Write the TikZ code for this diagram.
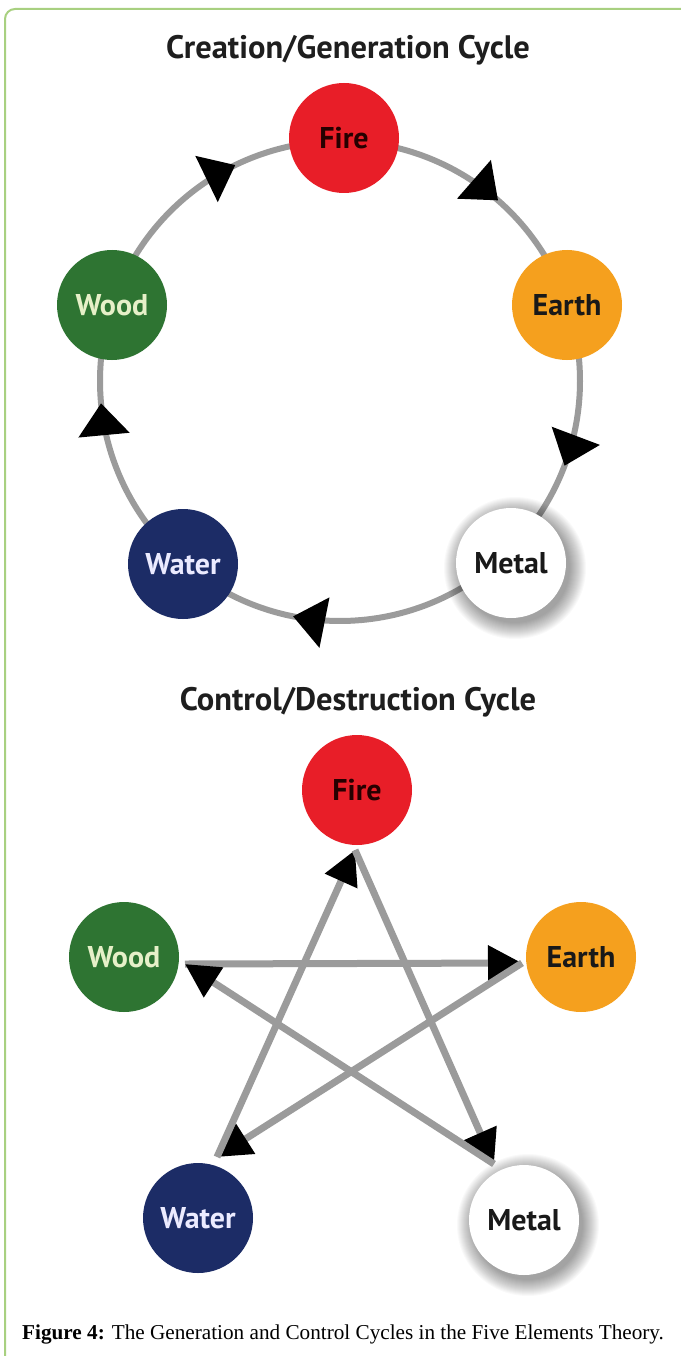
\documentclass[tikz,border=0pt]{standalone}
\usepackage{fontspec}
\setmainfont{Liberation Serif}
\setsansfont{PT Sans}
\usetikzlibrary{arrows.meta,decorations.markings,calc}
\definecolor{firered}{RGB}{232,30,40}
\definecolor{earthor}{RGB}{245,160,30}
\definecolor{woodgr}{RGB}{46,116,50}
\definecolor{waterbl}{RGB}{28,44,102}
\definecolor{ringgray}{RGB}{155,155,155}
\definecolor{framegr}{RGB}{168,208,128}
\definecolor{titlec}{RGB}{30,30,30}
\definecolor{woodtxt}{RGB}{230,240,200}
\begin{document}
\begin{tikzpicture}[x=1pt,y=1pt,
  elem/.style={circle, minimum size=110pt, inner sep=0pt, font=\sffamily\bfseries\fontsize{30}{30}\selectfont},
  ring/.style={draw=ringgray, line width=6pt},
  ringarrow/.style={postaction={decorate}, decoration={markings, mark=at position #1 with {\arrow{Triangle[length=32pt,width=50pt,color=black]}}}},
  starline/.style={draw=ringgray, line width=7pt, -{Triangle[length=34pt,width=34pt,color=black]}},
  ttl/.style={font=\sffamily\bfseries\fontsize{32.5}{33}\selectfont, text=titlec},
  shadowring/.style={fill=black, opacity=#1},
]
\useasboundingbox (0,0) rectangle (680,-1356);
\fill[white] (0,0) rectangle (680,-1356);
% frame
\draw[framegr, line width=2pt, rounded corners=10pt] (5,-1370) -- (5,-9) -- (700,-9);

% titles
\node[ttl] (t1) at (348,-50) {Creation/Generation Cycle};
\node[ttl] (t2) at (358,-702) {Control/Destruction Cycle};

% ---- top cycle ----
\coordinate (rc) at (340,-381);
\draw[ring, ringarrow=0.63] ($(rc)+(161.6:240pt)$) arc[start angle=161.6, end angle=89, radius=240pt];
\draw[ring, ringarrow=0.57] ($(rc)+(89:240pt)$) arc[start angle=89, end angle=18.5, radius=240pt];
\draw[ring, ringarrow=0.60] ($(rc)+(18.5:240pt)$) arc[start angle=18.5, end angle=-46.8, radius=240pt];
\draw[ring, ringarrow=0.65] ($(rc)+(-46.8:240pt)$) arc[start angle=-46.8, end angle=-130.6, radius=240pt];
\draw[ring, ringarrow=0.65] ($(rc)+(-130.6:240pt)$) arc[start angle=-130.6, end angle=-198.4, radius=240pt];

\foreach \r in {55,56,...,71}
  \fill[shadowring=0.024] (515,-568) circle[radius=\r pt];

\node[elem, fill=firered, text=black!85!red] (fire1) at (344,-138) {Fire};
\node[elem, fill=earthor, text=black!90] (earth1) at (567,-305) {Earth};
\node[elem, fill=woodgr, text=woodtxt] (wood1) at (112,-305) {Wood};
\node[elem, fill=waterbl, text=white!92!blue] (water1) at (183,-564) {Water};
\node[elem, fill=white, text=black!90] (metal1) at (511,-563) {Metal};

% ---- bottom cycle ----
\foreach \r in {55,56,...,71}
  \fill[shadowring=0.024] (528,-1225) circle[radius=\r pt];

\node[elem, fill=firered, text=black!85!red] (fire2) at (357,-790) {Fire};
\node[elem, fill=earthor, text=black!90] (earth2) at (581,-957) {Earth};
\node[elem, fill=woodgr, text=woodtxt] (wood2) at (124,-957) {Wood};
\node[elem, fill=waterbl, text=white!92!blue] (water2) at (198,-1218) {Water};
\node[elem, fill=white, text=black!90] (metal2) at (524,-1220) {Metal};

\coordinate (vF) at (355,-850);
\coordinate (vE) at (522,-963);
\coordinate (vWd) at (185,-964);
\coordinate (vWt) at (217,-1157);
\coordinate (vM) at (494,-1164);

\draw[starline] (vWd) -- (vE);
\draw[starline] (vE) -- (vWt);
\draw[starline] (vWt) -- (vF);
\draw[starline] (vF) -- (vM);
\draw[starline] (vM) -- (vWd);

% caption
\node[anchor=base west, inner sep=0pt, font=\fontsize{21.2}{22}\selectfont] (cap) at (22,-1339)
  {\textbf{Figure 4:} The Generation and Control Cycles in the Five Elements Theory.};
\end{tikzpicture}
\end{document}
